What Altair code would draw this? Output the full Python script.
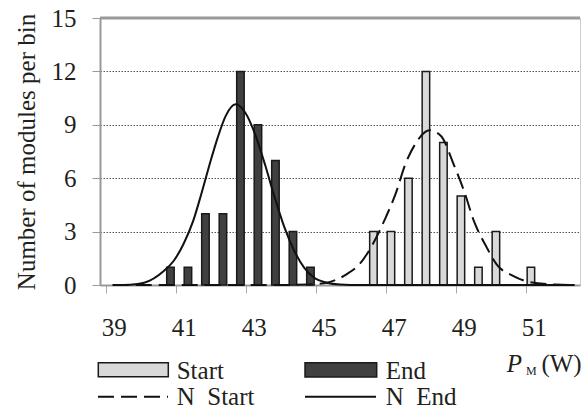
import altair as alt
import pandas as pd

# ---- data ----
x_ticks = [39, 41, 43, 45, 47, 49, 51]
y_ticks = [0, 3, 6, 9, 12, 15]

start_bins = [46.65, 47.15, 47.65, 48.15, 48.65, 49.15, 49.65, 50.15, 51.15]
start_counts = [3, 3, 6, 12, 8, 5, 1, 3, 1]
end_bins = [40.85, 41.35, 41.85, 42.35, 42.85, 43.35, 43.85, 44.35, 44.85]
end_counts = [1, 1, 4, 4, 12, 9, 7, 3, 1]

n_start_x = [39.2, 44.0, 44.8, 45.32, 45.88, 46.25, 46.63, 47.0, 47.28, 47.56, 47.84,
             48.26, 48.58, 48.96, 49.24, 49.52, 49.89, 50.17, 50.64, 51.10, 51.85, 52.4]
n_start_y = [0.0, 0.0, 0.03, 0.13, 0.6, 1.16, 2.29, 3.79, 5.1, 6.78, 7.9,
             8.69, 8.37, 6.69, 5.28, 3.6, 2.1, 1.16, 0.51, 0.17, 0.03, 0.0]
n_end_x = [39.2, 39.7, 40.10, 40.66, 40.94, 41.22, 41.50, 41.73, 41.97, 42.20, 42.43,
           42.71, 42.99, 43.27, 43.55, 43.83, 44.11, 44.39, 44.67, 44.95, 45.32,
           45.69, 46.3, 52.4]
n_end_y = [0.0, 0.02, 0.13, 0.79, 1.35, 2.29, 3.6, 5.1, 6.78, 8.28, 9.5,
           10.15, 9.68, 8.47, 6.78, 4.91, 3.22, 1.91, 0.98, 0.42, 0.13,
           0.03, 0.0, 0.0]

series_names = ["Start", "End"]
legend_labels = ["Start", "End", "N\u00a0 Start", "N\u00a0 End"]
y_title = "Number of modules per bin"

FONT = "'Liberation Serif', 'Times New Roman', Times, serif"
INK = "#231f20"
W, H = 480, 267

xscale = alt.Scale(domain=[38.98, 52.41], nice=False, zero=False)
yscale = alt.Scale(domain=[0, 15], nice=False)

bars_df = pd.DataFrame({
    "P": start_bins + end_bins,
    "count": start_counts + end_counts,
    "series": ["Start"] * len(start_bins) + ["End"] * len(end_bins),
})
ns_df = pd.DataFrame({"P": n_start_x, "v": n_start_y})
ne_df = pd.DataFrame({"P": n_end_x, "v": n_end_y})

x_axis = alt.Axis(values=x_ticks, title=None, grid=False, labelOffset=8,
                  tickSize=8, tickColor="#aaaaaa", tickWidth=1,
                  domainColor="#999999", domainWidth=2,
                  labelFont=FONT, labelFontSize=25, labelColor=INK,
                  labelPadding=22, labelFlush=False)
y_axis = alt.Axis(values=y_ticks, title=y_title, grid=True,
                  gridDash=[1.5, 1.5], gridColor="#555555", gridWidth=1,
                  tickSize=8, tickColor="#999999", tickWidth=1,
                  domainColor="#999999", domainWidth=2,
                  labelFont=FONT, labelFontSize=25, labelColor=INK, labelPadding=16,
                  titleFont=FONT, titleFontSize=25, titleFontWeight="normal",
                  titleColor=INK, titleX=-74, titleY=H / 2, titleAngle=-90,
                  titleAlign="center", titleBaseline="middle")

bars = alt.Chart(bars_df).mark_bar(size=7.5, stroke="#1a1a1a", strokeWidth=1.5).encode(
    x=alt.X("P:Q", scale=xscale, axis=x_axis),
    y=alt.Y("count:Q", scale=yscale, axis=y_axis),
    fill=alt.Fill("series:N", scale=alt.Scale(domain=series_names,
                                              range=["#d9d9d9", "#404040"]), legend=None),
)

line_end = alt.Chart(ne_df).mark_line(color="#111111", strokeWidth=2,
                                      interpolate="monotone").encode(
    x=alt.X("P:Q", scale=xscale), y=alt.Y("v:Q", scale=yscale))
line_start = alt.Chart(ns_df).mark_line(color="#111111", strokeWidth=2,
                                        strokeDash=[16, 7],
                                        interpolate="monotone").encode(
    x=alt.X("P:Q", scale=xscale), y=alt.Y("v:Q", scale=yscale))

top_rule = alt.Chart(pd.DataFrame({"v": [y_ticks[-1]]})).mark_rule(
    color="#999999", strokeWidth=3).encode(y=alt.Y("v:Q", scale=yscale))

one = pd.DataFrame({"k": [0]})


def label(text, x, y, size=25, align="left", style="normal"):
    return alt.Chart(pd.DataFrame({"t": [text]})).mark_text(
        align=align, baseline="alphabetic", font=FONT, fontSize=size,
        fontStyle=style, color=INK).encode(
        x=alt.value(x), y=alt.value(y), text="t:N")


leg_start_box = alt.Chart(one).mark_rect(fill="#d9d9d9", stroke="#1a1a1a",
                                         strokeWidth=1.5).encode(
    x=alt.value(-1.7), x2=alt.value(68.3), y=alt.value(344.7), y2=alt.value(358.7))
leg_end_box = alt.Chart(one).mark_rect(fill="#404040", stroke="#1a1a1a",
                                       strokeWidth=1.5).encode(
    x=alt.value(205), x2=alt.value(276.7), y=alt.value(344.7), y2=alt.value(359))
leg_start_line = alt.Chart(one).mark_rule(color="#111111", strokeWidth=2,
                                          strokeDash=[16, 7]).encode(
    x=alt.value(-2), x2=alt.value(68), y=alt.value(378.7))
leg_end_line = alt.Chart(one).mark_rule(color="#111111", strokeWidth=2).encode(
    x=alt.value(205), x2=alt.value(276), y=alt.value(378.7))

layers = [
    bars, line_end, line_start, top_rule,
    leg_start_box, leg_end_box, leg_start_line, leg_end_line,
    label(legend_labels[0], 76.7, 361), label(legend_labels[1], 285.7, 361),
    label(legend_labels[2], 76.7, 387), label(legend_labels[3], 285.7, 387),
    label("P", 406.7, 354, style="italic"),
    label("M", 426, 357, size=12),
    label("(W)", 481.7, 354, align="right"),
]

chart = alt.layer(*layers).properties(
    width=W, height=H,
    padding={"left": 100, "top": 18, "right": 2, "bottom": 126},
    autosize=alt.AutoSizeParams(type="none"),
).configure_view(stroke="#cccccc", strokeWidth=1)

chart.save("out.html", embed_options={"renderer": "svg", "actions": False})
